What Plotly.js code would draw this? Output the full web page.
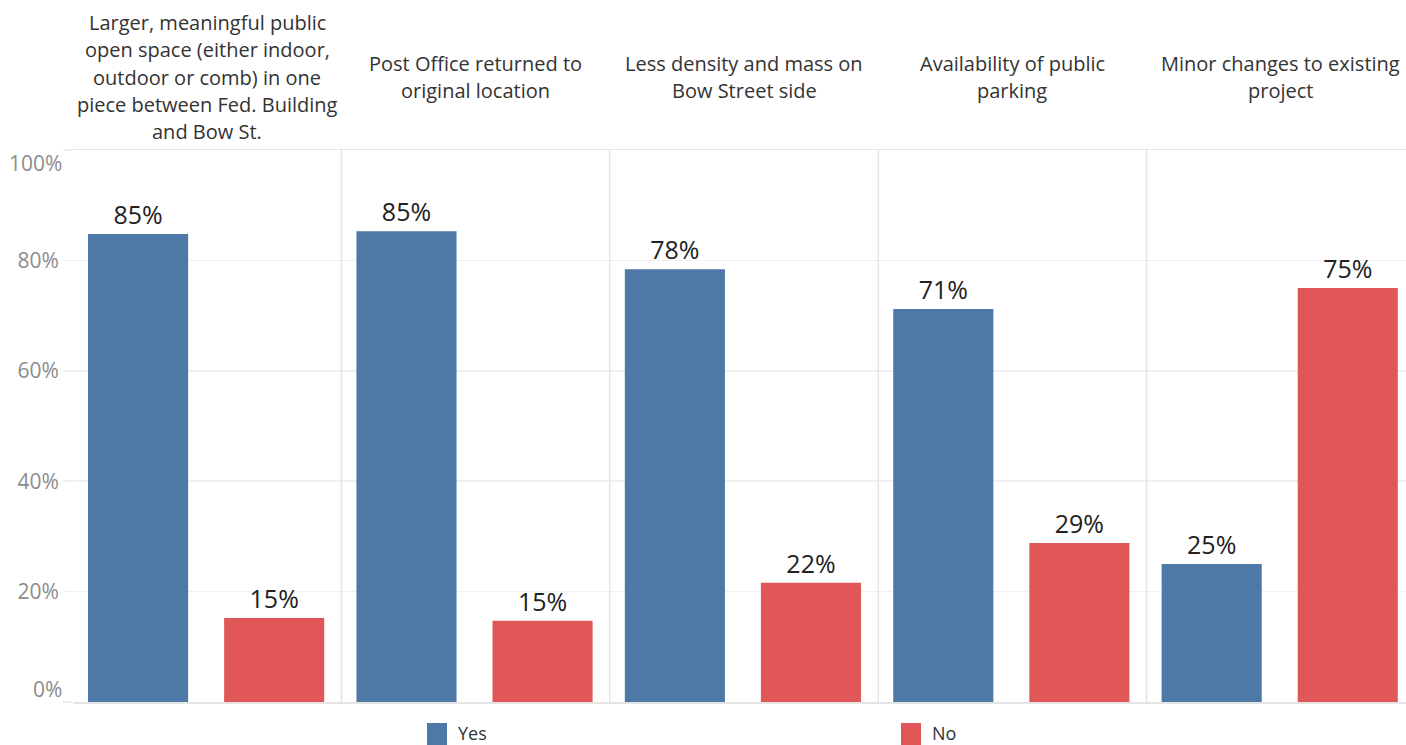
<!DOCTYPE html>
<html>
<head>
<meta charset="utf-8">
<script src="https://cdn.plot.ly/plotly-3.0.1.min.js"></script>
<style>
html, body { margin: 0; padding: 0; overflow: hidden; background: #fff; }
#chart { width: 1417px; height: 745px; }
</style>
</head>
<body>
<div id="chart"></div>
<script>
// ---- data ----
var categories = [
  "Larger, meaningful public open space (either indoor, outdoor or comb) in one piece between Fed. Building and Bow St.",
  "Post Office returned to original location",
  "Less density and mass on Bow Street side",
  "Availability of public parking",
  "Minor changes to existing project"
];
var headerLines = [
  ["Larger, meaningful public", "open space (either indoor,", "outdoor or comb) in one", "piece between Fed. Building", "and Bow St."],
  ["Post Office returned to", "original location"],
  ["Less density and mass on", "Bow Street side"],
  ["Availability of public", "parking"],
  ["Minor changes to existing", "project"]
];
var yesValues = [84.8, 85.3, 78.4, 71.2, 25.0];
var noValues  = [15.2, 14.7, 21.6, 28.8, 75.0];
var seriesNames = ["Yes", "No"];
var yTickVals = [0, 20, 40, 60, 80, 100];
var yTickText = ["0%", "20%", "40%", "60%", "80%", "100%"];

// ---- styles ----
var BLUE = "#4e79a7", RED = "#e15759";
var FONT = "Open Sans, sans-serif";
var ML = 73, PW = 1342, PT = 150, PH = 552;

var traces = [
  {
    type: "bar", name: seriesNames[0], x: categories, y: yesValues,
    marker: { color: BLUE }, width: 0.373, offset: -0.444,
    text: yesValues.map(function(v){ return Math.round(v) + "%"; }),
    textposition: "outside", cliponaxis: false,
    textfont: { family: FONT, size: 25, color: "#222" },
    hoverinfo: "skip"
  },
  {
    type: "bar", name: seriesNames[1], x: categories, y: noValues,
    marker: { color: RED }, width: 0.373, offset: 0.063,
    text: noValues.map(function(v){ return Math.round(v) + "%"; }),
    textposition: "outside", cliponaxis: false,
    textfont: { family: FONT, size: 25, color: "#222" },
    hoverinfo: "skip"
  }
];

var shapes = [];
var annotations = [];

// panel separators
for (var i = 0; i < categories.length - 1; i++) {
  shapes.push({ type: "line", xref: "x", yref: "paper", x0: i + 0.5, x1: i + 0.5, y0: 0, y1: 1,
    line: { color: "#e4e4e4", width: 1.5 } });
}

// headers
for (var c = 0; c < categories.length; c++) {
  var lines = headerLines[c];
  var n = lines.length;
  for (var k = 0; k < n; k++) {
    annotations.push({
      xref: "x", yref: "paper", x: categories[c], y: 1, yanchor: "middle",
      yshift: 73 + ((n - 1) / 2 - k) * 27.3,
      text: lines[k], showarrow: false,
      font: { family: FONT, size: 20, color: "#333" }
    });
  }
}

// edge y tick labels (shifted inward like the reference)
annotations.push({ xref: "paper", yref: "y", x: 0, y: yTickVals[0], xanchor: "right", xshift: -9, yshift: 13,
  text: yTickText[0], showarrow: false, font: { family: FONT, size: 21, color: "#8c8c8c" } });
annotations.push({ xref: "paper", yref: "y", x: 0, y: yTickVals[5], xanchor: "right", xshift: -9, yshift: -13,
  text: yTickText[5], showarrow: false, font: { family: FONT, size: 21, color: "#8c8c8c" } });

// legend (manual)
var legendX = [427, 901];
var legendColors = [BLUE, RED];
function px2x(p) { return (p - ML) / PW; }
function py2y(p) { return (PT + PH - p) / PH; }
for (var s = 0; s < 2; s++) {
  shapes.push({ type: "rect", xref: "paper", yref: "paper", x0: px2x(legendX[s]), x1: px2x(legendX[s] + 20),
    y0: py2y(745), y1: py2y(723),
    fillcolor: legendColors[s], line: { width: 0 } });
  annotations.push({ xref: "paper", yref: "paper", x: px2x(legendX[s] + 29), y: py2y(733),
    xanchor: "left", yanchor: "middle", text: seriesNames[s], showarrow: false,
    font: { family: FONT, size: 18, color: "#333" } });
}

var layout = {
  width: ML + PW + 2, height: 745,
  margin: { l: ML, r: 2, t: PT, b: 745 - PT - PH },
  paper_bgcolor: "#fff", plot_bgcolor: "#fff",
  showlegend: false,
  barmode: "overlay",
  xaxis: {
    type: "category", range: [-0.5, 4.5], showticklabels: false, ticks: "",
    showgrid: false, zeroline: false, showline: true, mirror: true,
    linecolor: "#e4e4e4", linewidth: 1.5, fixedrange: true
  },
  yaxis: {
    range: [0, 100], tickvals: yTickVals,
    ticktext: yTickText.map(function(t, i){ return (i === 0 || i === yTickVals.length - 1) ? "" : t; }),
    ticks: "outside", ticklen: 9, tickcolor: "#eeeeee", tickwidth: 1.5,
    showgrid: true, gridcolor: "#f0f0f0", gridwidth: 1.5, zeroline: false,
    showline: false,
    tickfont: { family: FONT, size: 21, color: "#8c8c8c" },
    fixedrange: true
  },
  shapes: shapes,
  annotations: annotations
};

Plotly.newPlot("chart", traces, layout, { displayModeBar: false, staticPlot: true });
</script>
</body>
</html>
